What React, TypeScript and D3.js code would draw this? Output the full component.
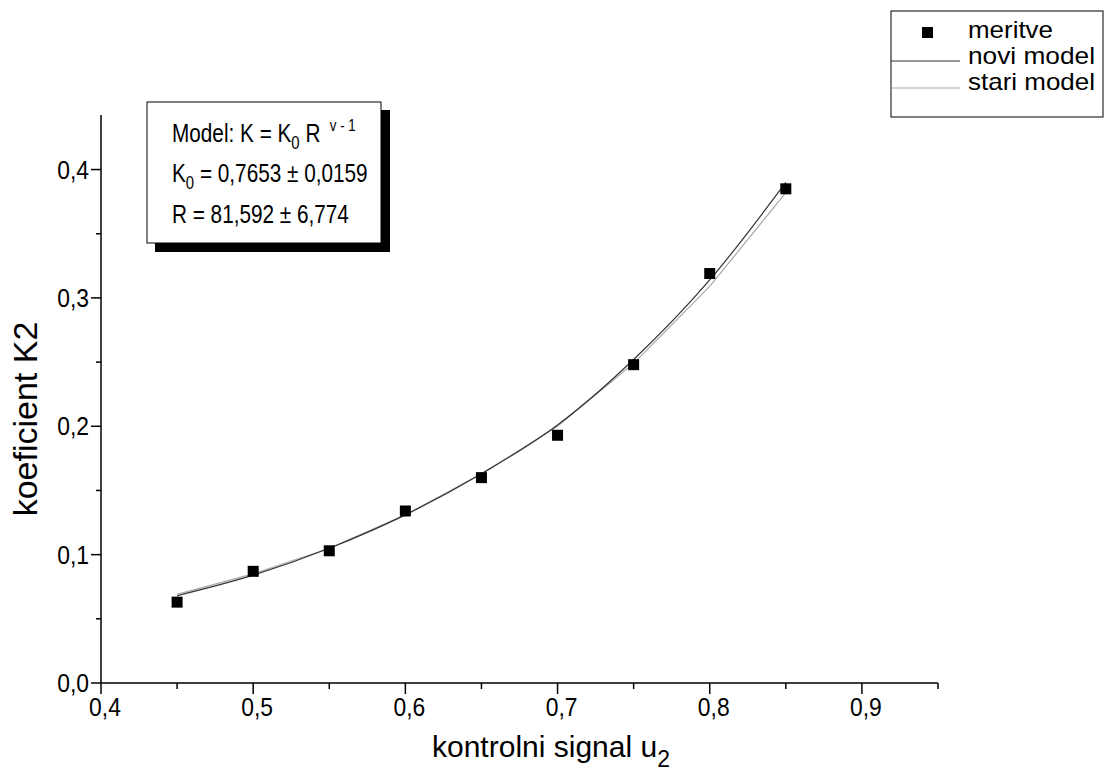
import React from "react";
import * as d3 from "d3";

const uValues = [0.45, 0.5, 0.55, 0.6, 0.65, 0.7, 0.75, 0.8, 0.85];
const meritve = [0.063, 0.087, 0.103, 0.134, 0.160, 0.193, 0.248, 0.319, 0.385];
const noviModel = [0.068, 0.084, 0.105, 0.131, 0.163, 0.201, 0.252, 0.314, 0.390];
const stariModel = [0.069, 0.085, 0.105, 0.131, 0.163, 0.200, 0.249, 0.309, 0.382];
const xMajorTicks = [0.4, 0.5, 0.6, 0.7, 0.8, 0.9];
const xMinorTicks = [0.45, 0.55, 0.65, 0.75, 0.85, 0.95];
const yMajorTicks = [0.0, 0.1, 0.2, 0.3, 0.4];
const yMinorTicks = [0.05, 0.15, 0.25, 0.35];
const legendLabels = ["meritve", "novi model", "stari model"];

const FONT = "'Liberation Sans', Arial, Helvetica, sans-serif";
const fmt = (v: number) => v.toFixed(1).replace(".", ",");

export default function App() {
  const W = 1104, H = 771;
  const x = d3.scaleLinear().domain([0.4, 0.95]).range([101, 938]);
  const y = d3.scaleLinear().domain([0, 0.4425]).range([683, 115]);

  const noviLine = d3
    .line<number>()
    .x((_, i) => x(uValues[i]))
    .y((d) => y(d))
    .curve(d3.curveMonotoneX);
  const stariLine = d3
    .line<number>()
    .x((_, i) => x(uValues[i]))
    .y((d) => y(d))
    .curve(d3.curveLinear);

  const ms = 11;
  return (
    <svg
      width={W}
      height={H}
      style={{ position: "absolute", left: 0, top: 0, background: "#fff" }}
      fontFamily={FONT}
    >
      <rect x={0} y={0} width={W} height={H} fill="#fff" />
      {/* axes */}
      <line x1={x(0.4)} x2={x(0.95)} y1={y(0)} y2={y(0)} stroke="#000" strokeWidth={1.5} />
      <line x1={x(0.4)} x2={x(0.4)} y1={y(0)} y2={y(0.4425)} stroke="#000" strokeWidth={1.5} />
      {xMajorTicks.map((t) => (
        <g key={"xm" + t}>
          <line x1={x(t)} x2={x(t)} y1={y(0)} y2={y(0) + 11} stroke="#000" strokeWidth={1.5} />
          <g transform={`translate(${x(t) + 4},716) scale(0.88,1)`}>
            <text x={0} y={0} fontSize={26} textAnchor="middle" fill="#000">
              {fmt(t)}
            </text>
          </g>
        </g>
      ))}
      {xMinorTicks.map((t) => (
        <line key={"xn" + t} x1={x(t)} x2={x(t)} y1={y(0)} y2={y(0) + 6} stroke="#000" strokeWidth={1.5} />
      ))}
      {yMajorTicks.map((t) => (
        <g key={"ym" + t}>
          <line x1={x(0.4) - 10} x2={x(0.4)} y1={y(t)} y2={y(t)} stroke="#000" strokeWidth={1.5} />
          <g transform={`translate(89,${y(t) + 9}) scale(0.88,1)`}>
            <text x={0} y={0} fontSize={26} textAnchor="end" fill="#000">
              {fmt(t)}
            </text>
          </g>
        </g>
      ))}
      {yMinorTicks.map((t) => (
        <line key={"yn" + t} x1={x(0.4) - 5} x2={x(0.4)} y1={y(t)} y2={y(t)} stroke="#000" strokeWidth={1.5} />
      ))}

      {/* axis titles */}
      <text x={432} y={757} fontSize={30} fill="#000">
        kontrolni signal u
        <tspan fontSize={23} dy={10}>2</tspan>
      </text>
      <text
        transform="translate(37,419) rotate(-90)"
        fontSize={34}
        textAnchor="middle"
        fill="#000"
      >
        koeficient K2
      </text>

      {/* curves */}
      <path d={stariLine(stariModel) || ""} fill="none" stroke="#a8a8a8" strokeWidth={1.2} />
      <path d={noviLine(noviModel) || ""} fill="none" stroke="#333" strokeWidth={1.2} />

      {/* data points */}
      {meritve.map((v, i) => (
        <rect
          key={"p" + i}
          x={x(uValues[i]) - ms / 2}
          y={y(v) - ms / 2}
          width={ms}
          height={ms}
          fill="#000"
        />
      ))}

      {/* annotation box */}
      <rect x={155} y={110} width={235} height={142} fill="#000" />
      <rect x={147} y={102} width={234} height={141} fill="#fff" stroke="#000" strokeWidth={1} />
      <g transform="translate(172,142) scale(0.83,1)">
        <text x={0} y={0} fontSize={25} fill="#000">
          Model: K = K<tspan fontSize={18} dy={7}>0</tspan>
          <tspan dy={-7}> R </tspan>
          <tspan fontSize={16} dy={-11}>{"\u00a0v - 1"}</tspan>
        </text>
      </g>
      <g transform="translate(172,182) scale(0.83,1)">
        <text x={0} y={0} fontSize={25} fill="#000">
          K<tspan fontSize={18} dy={7}>0</tspan>
          <tspan dy={-7}> = 0,7653 ± 0,0159</tspan>
        </text>
      </g>
      <g transform="translate(172,223) scale(0.83,1)">
        <text x={0} y={0} fontSize={25} fill="#000">
          R = 81,592 ± 6,774
        </text>
      </g>

      {/* legend */}
      <rect x={891} y={11} width={212} height={106} fill="#fff" stroke="#000" strokeWidth={1} />
      <rect x={922} y={27} width={11} height={11} fill="#000" />
      <line x1={891} x2={960} y1={61} y2={61} stroke="#333" strokeWidth={1.2} />
      <line x1={891} x2={960} y1={88} y2={88} stroke="#a8a8a8" strokeWidth={1.2} />
      <text x={968} y={38} fontSize={24} textLength={85} lengthAdjust="spacingAndGlyphs" fill="#000">
        {legendLabels[0]}
      </text>
      <text x={968} y={64} fontSize={24} textLength={127} lengthAdjust="spacingAndGlyphs" fill="#000">
        {legendLabels[1]}
      </text>
      <text x={968} y={90} fontSize={24} textLength={127} lengthAdjust="spacingAndGlyphs" fill="#000">
        {legendLabels[2]}
      </text>
    </svg>
  );
}
